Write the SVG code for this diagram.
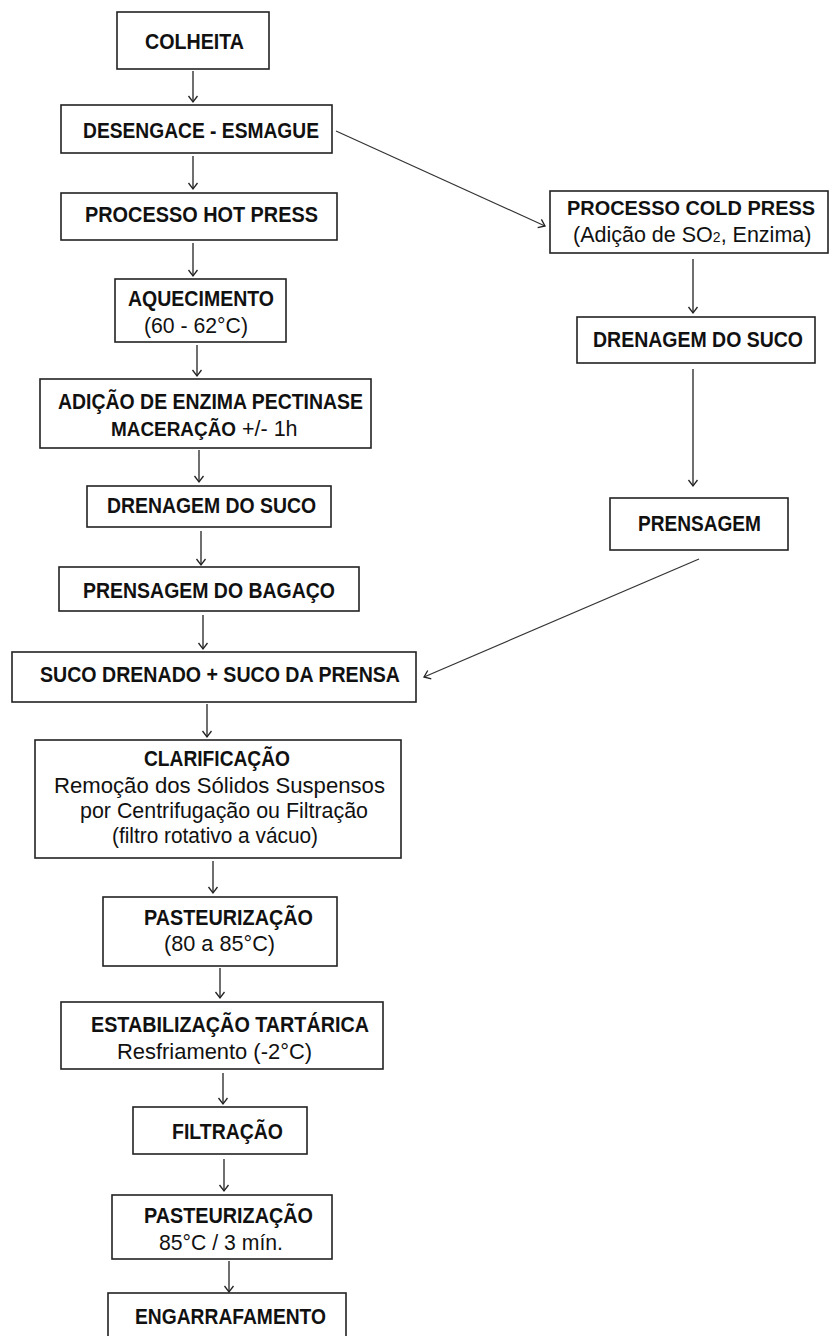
<svg xmlns="http://www.w3.org/2000/svg" width="829" height="1336" viewBox="0 0 829 1336">
<defs>
<style>
.box{fill:#fff;stroke:#222;stroke-width:1.6}
.b{font-family:"Liberation Sans",Arial,sans-serif;font-weight:bold;font-size:21.5px;fill:#111}
.r{font-family:"Liberation Sans",Arial,sans-serif;font-size:21.5px;fill:#111}
.b.s{font-size:19.5px}
.c line{stroke:#222;stroke-width:1.3;fill:none;marker-end:url(#ah)}
.c line.d{stroke:#333;stroke-width:1.2}
</style>
<marker id="ah" markerUnits="userSpaceOnUse" markerWidth="14" markerHeight="14" refX="0" refY="0" viewBox="-8 -7 10 14" orient="auto">
<path d="M-6,-4.5 L0,0 L-6,4.5" fill="none" stroke="#222" stroke-width="1.3"/>
</marker>
</defs>
<rect width="829" height="1336" fill="#fff"/>
<g class="c" id="connectors">
<line x1="193" y1="71" x2="193" y2="102"/>
<line x1="193" y1="156" x2="193" y2="189"/>
<line x1="193" y1="243" x2="193" y2="276"/>
<line x1="197" y1="345" x2="197" y2="376"/>
<line x1="199" y1="450" x2="199" y2="482"/>
<line x1="201" y1="531" x2="201" y2="565"/>
<line x1="203" y1="615" x2="203" y2="649"/>
<line x1="207" y1="704" x2="207" y2="737"/>
<line x1="213" y1="861" x2="213" y2="893"/>
<line x1="220" y1="968" x2="220" y2="998"/>
<line x1="223" y1="1073" x2="223" y2="1104"/>
<line x1="224" y1="1159" x2="224" y2="1191"/>
<line x1="229" y1="1261" x2="229" y2="1292"/>
<line x1="693" y1="259" x2="693" y2="313"/>
<line x1="693" y1="369" x2="693" y2="486"/>
<line class="d" x1="336" y1="131" x2="545" y2="226"/>
<line class="d" x1="699" y1="559" x2="424" y2="677"/>
</g>
<g id="colheita"><rect class="box" x="117" y="12" width="152" height="57"/><text class="b" x="145" y="49" textLength="99" lengthAdjust="spacingAndGlyphs">COLHEITA</text></g>
<g id="desengace"><rect class="box" x="61" y="105" width="271" height="48"/><text class="b" x="83" y="137.5" textLength="236" lengthAdjust="spacingAndGlyphs">DESENGACE - ESMAGUE</text></g>
<g id="hotpress"><rect class="box" x="61" y="193" width="276" height="47"/><text class="b" x="85" y="221.5" textLength="233" lengthAdjust="spacingAndGlyphs">PROCESSO HOT PRESS</text></g>
<g id="aquecimento"><rect class="box" x="115" y="279" width="171" height="63"/><text class="b" x="128" y="306" textLength="146" lengthAdjust="spacingAndGlyphs">AQUECIMENTO</text><text class="r" x="144" y="332.5" textLength="104" lengthAdjust="spacingAndGlyphs">(60 - 62°C)</text></g>
<g id="adicao"><rect class="box" x="40" y="379" width="331" height="69"/><text class="b" x="58" y="409" textLength="305" lengthAdjust="spacingAndGlyphs">ADIÇÃO DE ENZIMA PECTINASE</text><text class="b s" x="111" y="436" textLength="125" lengthAdjust="spacingAndGlyphs">MACERAÇÃO</text><text class="r" x="242" y="436">+/- 1h</text></g>
<g id="drenagem1"><rect class="box" x="87" y="486" width="244" height="41"/><text class="b" x="107" y="513" textLength="209" lengthAdjust="spacingAndGlyphs">DRENAGEM DO SUCO</text></g>
<g id="prensagembagaco"><rect class="box" x="59" y="567" width="300" height="44"/><text class="b" x="83" y="598" textLength="252" lengthAdjust="spacingAndGlyphs">PRENSAGEM DO BAGAÇO</text></g>
<g id="sucodrenado"><rect class="box" x="12" y="652" width="404" height="50"/><text class="b" x="40" y="682" textLength="360" lengthAdjust="spacingAndGlyphs">SUCO DRENADO + SUCO DA PRENSA</text></g>
<g id="clarificacao"><rect class="box" x="35" y="740" width="366" height="118"/><text class="b" x="144" y="766" textLength="146" lengthAdjust="spacingAndGlyphs">CLARIFICAÇÃO</text><text class="r" x="54" y="793" textLength="331" lengthAdjust="spacingAndGlyphs">Remoção dos Sólidos Suspensos</text><text class="r" x="80" y="818" textLength="288" lengthAdjust="spacingAndGlyphs">por Centrifugação ou Filtração</text><text class="r" x="112" y="843" textLength="206" lengthAdjust="spacingAndGlyphs">(filtro rotativo a vácuo)</text></g>
<g id="pasteurizacao1"><rect class="box" x="103" y="897" width="234" height="69"/><text class="b" x="144" y="925" textLength="169" lengthAdjust="spacingAndGlyphs">PASTEURIZAÇÃO</text><text class="r" x="164" y="951" textLength="111" lengthAdjust="spacingAndGlyphs">(80 a 85°C)</text></g>
<g id="estabilizacao"><rect class="box" x="61" y="1002" width="322" height="67"/><text class="b" x="91" y="1032" textLength="278" lengthAdjust="spacingAndGlyphs">ESTABILIZAÇÃO TARTÁRICA</text><text class="r" x="117" y="1059" textLength="195" lengthAdjust="spacingAndGlyphs">Resfriamento (-2°C)</text></g>
<g id="filtracao"><rect class="box" x="133" y="1107" width="174" height="47"/><text class="b" x="172" y="1139" textLength="111" lengthAdjust="spacingAndGlyphs">FILTRAÇÃO</text></g>
<g id="pasteurizacao2"><rect class="box" x="112" y="1195" width="220" height="64"/><text class="b" x="144" y="1223" textLength="169" lengthAdjust="spacingAndGlyphs">PASTEURIZAÇÃO</text><text class="r" x="159" y="1250" textLength="124" lengthAdjust="spacingAndGlyphs">85°C / 3 mín.</text></g>
<g id="engarrafamento"><rect class="box" x="108" y="1293" width="238" height="60"/><text class="b" x="135" y="1324" textLength="191" lengthAdjust="spacingAndGlyphs">ENGARRAFAMENTO</text></g>
<g id="coldpress"><rect class="box" x="550" y="191" width="278" height="62"/><text class="b s" x="567" y="215" textLength="248" lengthAdjust="spacingAndGlyphs">PROCESSO COLD PRESS</text><text class="r" x="573" y="242">(Adição de SO<tspan style="font-size:14px">2</tspan>, Enzima)</text></g>
<g id="drenagem2"><rect class="box" x="577" y="317" width="238" height="46"/><text class="b" x="593" y="347" textLength="210" lengthAdjust="spacingAndGlyphs">DRENAGEM DO SUCO</text></g>
<g id="prensagem"><rect class="box" x="610" y="498" width="178" height="52"/><text class="b" x="638" y="531" textLength="123" lengthAdjust="spacingAndGlyphs">PRENSAGEM</text></g>
</svg>
